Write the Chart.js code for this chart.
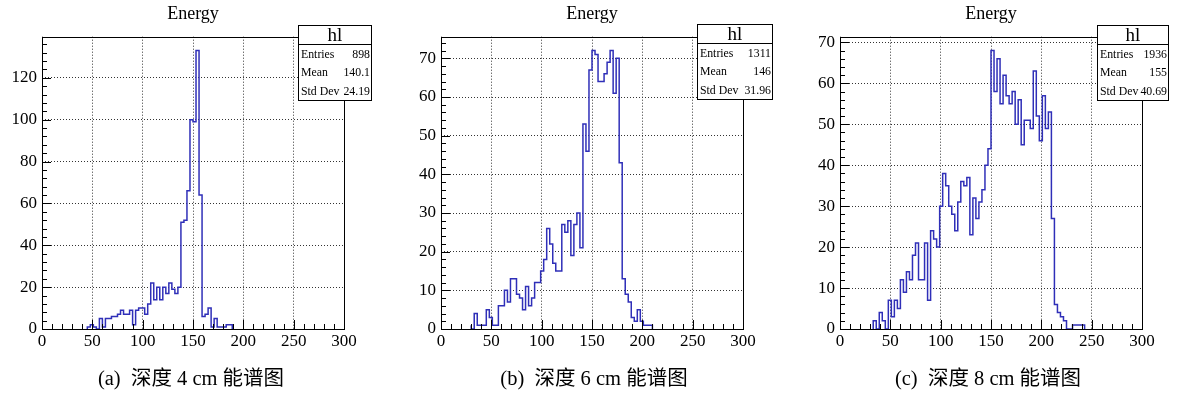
<!DOCTYPE html>
<html><head><meta charset="utf-8">
<script src="https://cdn.jsdelivr.net/npm/chart.js@4.4.1/dist/chart.umd.min.js"></script>
<style>
html,body{margin:0;padding:0;background:#fff;overflow:hidden;width:1177px;height:393px;position:relative;}
canvas{position:absolute;top:0;}
.stats{position:absolute;border:1px solid #000;background:#fff;font-family:"Liberation Serif",serif;font-size:11.8px;color:#000;box-sizing:border-box;}
.stats .hd{text-align:center;font-size:19px;line-height:17px;height:18px;border-bottom:1px solid #000;}
.stats .row{display:flex;justify-content:space-between;padding:0 1px 0 2px;height:18.3px;line-height:18.3px;}
.cap{position:absolute;top:366px;font-family:"Liberation Serif","Noto Sans CJK SC",serif;font-size:20.5px;line-height:25px;white-space:pre;transform:translateX(-50%);color:#000;}
</style></head><body>
<canvas id="ca" width="386" height="393" style="left:0px"></canvas>
<canvas id="cb" width="386" height="393" style="left:399px"></canvas>
<canvas id="cc" width="386" height="393" style="left:798px"></canvas>
<div id="overlay"></div>
<script>
// ---- data (bin width 3, range 0..300, 100 bins) ----
const X_MIN = 0, X_MAX = 300, BIN_W = 3;
const xTickStep = 50, xMinorStep = 10;
const countsA = [
  0,0,0,0,0,0,0,0,0,0,
  0,0,0,0,0,1,1,2,1,0,
  5,1,5,5,6,6,7,9,7,7,
  9,2,9,10,10,7,12,22,14,20,
  14,20,17,22,19,17,20,51,52,66,
  100,99,133,64,6,7,10,1,5,1,
  1,1,2,0,0,0,0,0,0,0,
  0,0,0,0,0,0,0,0,0,0,
  0,0,0,0,0,0,0,0,0,0,
  0,0,0,0,0,0,0,0,0,0];
const countsB = [
  0,0,0,0,0,0,0,0,0,0,
  1,0,4,1,1,1,5,3,1,1,
  6,6,10,7,13,13,9,8,5,11,
  6,8,12,12,15,18,26,22,17,15,
  15,27,25,28,19,27,30,21,53,46,
  67,72,71,64,64,66,69,72,61,70,
  43,13,9,7,3,2,5,2,1,1,
  0,0,0,0,0,0,0,0,0,0,
  0,0,0,0,0,0,0,0,0,0,
  0,0,0,0,0,0,0,0,0,0];
const countsC = [
  0,0,0,0,0,0,0,0,0,0,
  0,1,2,0,4,2,0,7,3,7,
  5,12,9,14,12,18,21,12,12,21,
  7,24,22,20,30,38,35,30,28,24,
  31,36,35,37,23,32,27,31,34,40,
  44,68,58,66,55,62,57,55,58,50,
  56,45,51,51,49,63,52,46,57,49,
  53,27,6,4,3,2,0,0,1,1,
  1,0,0,0,0,0,0,0,0,0,
  0,0,0,0,0,0,0,0,0,0];
const yTickSteps = [20, 10, 10];
const yMinorSteps = [4, 2, 2];
const statNames = ["Entries", "Mean", "Std Dev"];
const statsA = ["898", "140.1", "24.19"];
const statsB = ["1311", "146", "31.96"];
const statsC = ["1936", "155", "40.69"];
const titles = ["Energy", "Energy", "Energy"];
const captions = ["(a)  深度 4 cm 能谱图", "(b)  深度 6 cm 能谱图", "(c)  深度 8 cm 能谱图"];

const LINE = '#2f2fb8';
const FONT = 'Liberation Serif';

const framePlugin = {
  id: 'rootFrame',
  afterDatasetsDraw(chart, args, opts) {
    const {ctx, chartArea: a, scales: {x, y}} = chart;
    ctx.save();
    ctx.strokeStyle = '#000';
    ctx.lineWidth = 1;
    ctx.beginPath();
    for (let v = X_MIN; v <= X_MAX + 1e-9; v += xMinorStep) {
      const px = Math.round(x.getPixelForValue(v)) + 0.5;
      const len = (v % xTickStep === 0) ? 9 : 5;
      ctx.moveTo(px, a.bottom); ctx.lineTo(px, a.bottom - len);
    }
    for (let v = 0; v <= y.max + 1e-9; v += opts.yMinor) {
      const py = Math.round(y.getPixelForValue(v)) + 0.5;
      const len = (v % opts.yMajor === 0) ? 9 : 5;
      ctx.moveTo(a.left, py); ctx.lineTo(a.left + len, py);
    }
    ctx.stroke();
    ctx.strokeRect(Math.round(a.left) + 0.5, Math.round(a.top) + 0.5,
                   Math.round(a.right - a.left), Math.round(a.bottom - a.top));
    ctx.restore();
  }
};

function histPoints(counts) {
  let f = counts.findIndex(v => v > 0);
  let l = counts.length - 1;
  while (l > 0 && counts[l] === 0) l--;
  const pts = [{x: X_MIN + f * BIN_W, y: 0}];
  for (let i = f; i <= l; i++) pts.push({x: X_MIN + i * BIN_W, y: counts[i]});
  pts.push({x: X_MIN + (l + 1) * BIN_W, y: counts[l]});
  pts.push({x: X_MIN + (l + 1) * BIN_W, y: 0});
  return pts;
}

function makePanel(canvasId, counts, idx) {
  const yMax = Math.max(...counts) * 1.05;
  const step = yTickSteps[idx];
  const tickFont = {family: FONT, size: 17};
  return new Chart(document.getElementById(canvasId), {
    type: 'line',
    data: {datasets: [{data: histPoints(counts), stepped: 'after', borderColor: LINE, borderWidth: 1.5,
      pointRadius: 0, fill: false, tension: 0}]},
    options: {
      responsive: false, animation: false, devicePixelRatio: 1,
      layout: {padding: 0},
      plugins: {
        legend: {display: false}, tooltip: {enabled: false},
        title: {display: true, text: titles[idx], color: '#000',
          font: {family: FONT, size: 18, weight: 'normal'}, padding: {top: 3.5, bottom: 11.6}},
        rootFrame: {yMinor: yMinorSteps[idx], yMajor: step}
      },
      scales: {
        x: {type: 'linear', min: X_MIN, max: X_MAX,
          ticks: {stepSize: xTickStep, font: tickFont, color: '#000', padding: 2, maxRotation: 0, autoSkip: false},
          grid: {color: '#333', drawTicks: false, lineWidth: 1},
          border: {display: false, dash: [1, 2]},
          afterFit(s) { s.height = 64; }},
        y: {type: 'linear', min: 0, max: yMax,
          ticks: {font: tickFont, color: '#000', padding: 5, autoSkip: false},
          afterBuildTicks(s) {
            const t = [];
            for (let v = 0; v <= s.max + 1e-9; v += step) t.push({value: v});
            s.ticks = t;
          },
          grid: {color: '#333', drawTicks: false, lineWidth: 1},
          border: {display: false, dash: [1, 2]},
          afterFit(s) { s.width = 42; }},
        y2: {type: 'linear', position: 'right', display: true,
          grid: {display: false}, border: {display: false}, ticks: {display: false},
          afterFit(s) { s.width = 42; }}
      }
    },
    plugins: [framePlugin]
  });
}

makePanel('ca', countsA, 0);
makePanel('cb', countsB, 1);
makePanel('cc', countsC, 2);

// stats boxes and captions (HTML text)
const boxes = [
  {left: 298, top: 25, width: 74, vals: statsA},
  {left: 697, top: 24, width: 76, vals: statsB},
  {left: 1097, top: 25, width: 72, vals: statsC}
];
const capCenters = [191, 594, 988];
const ov = document.getElementById('overlay');
boxes.forEach(b => {
  const d = document.createElement('div');
  d.className = 'stats';
  d.style.left = b.left + 'px'; d.style.top = b.top + 'px'; d.style.width = b.width + 'px';
  let html = '<div class="hd">hl</div>';
  statNames.forEach((n, i) => { html += '<div class="row"><span>' + n + '</span><span>' + b.vals[i] + '</span></div>'; });
  d.innerHTML = html;
  ov.appendChild(d);
});
captions.forEach((c, i) => {
  const d = document.createElement('div');
  d.className = 'cap';
  d.style.left = capCenters[i] + 'px';
  d.textContent = c;
  ov.appendChild(d);
});
</script>
</body></html>
